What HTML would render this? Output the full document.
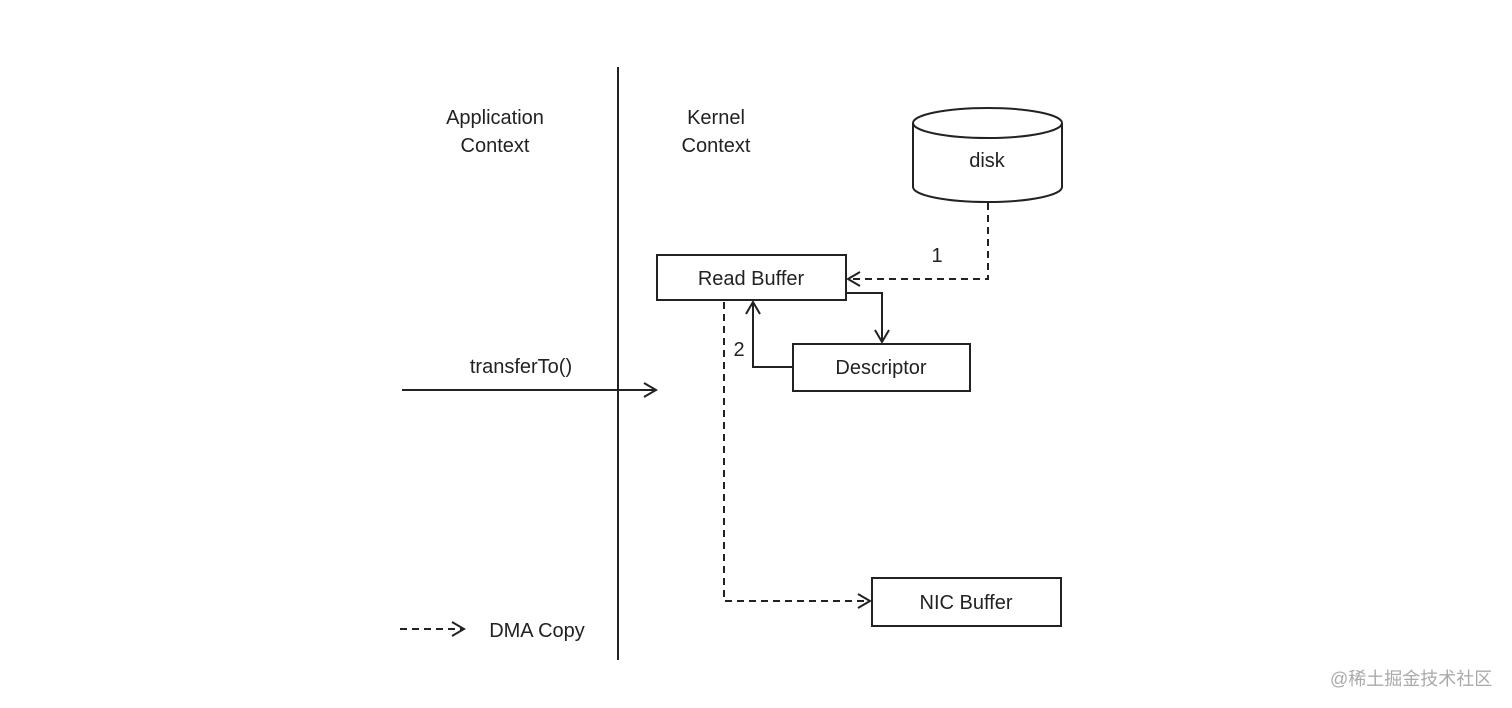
<!DOCTYPE html>
<html><head><meta charset="utf-8"><style>
html,body{margin:0;padding:0;background:#fff;}
svg{display:block;}
text{font-family:"Liberation Sans","Noto Sans CJK SC",sans-serif;fill:#222;}
</style></head><body>
<svg width="1512" height="708" viewBox="0 0 1512 708" xmlns="http://www.w3.org/2000/svg">
<g stroke="#222" stroke-width="2" fill="none">
<line x1="618" y1="67" x2="618" y2="660"/>
<rect x="657" y="255" width="189" height="45" fill="#fff"/>
<rect x="793" y="344" width="177" height="47" fill="#fff"/>
<rect x="872" y="578" width="189" height="48" fill="#fff"/>
<path d="M913,123 L913,187 A74.5,15 0 0 0 1062,187 L1062,123"/>
<ellipse cx="987.5" cy="123" rx="74.5" ry="15"/>
<path d="M988,203 L988,279 L850,279" stroke-dasharray="7,5"/>
<path d="M860,272 L848,279 L860,286"/>
<path d="M846,293 L882,293 L882,342"/>
<path d="M875,330 L882,342 L889,330"/>
<path d="M793,367 L753,367 L753,302"/>
<path d="M746,314 L753,302 L760,314"/>
<path d="M724,302 L724,601 L868,601" stroke-dasharray="7,5"/>
<path d="M858,594 L870,601 L858,608"/>
<line x1="402" y1="390" x2="656" y2="390"/>
<path d="M644,383 L656,390 L644,397"/>
<line x1="400" y1="629" x2="462" y2="629" stroke-dasharray="7,5"/>
<path d="M452,622 L464,629 L452,636"/>
</g>
<g font-size="20" text-anchor="middle">
<text x="495" y="124">Application</text>
<text x="495" y="152">Context</text>
<text x="716" y="124">Kernel</text>
<text x="716" y="152">Context</text>
<text x="987" y="167">disk</text>
<text x="751" y="285">Read Buffer</text>
<text x="881" y="374">Descriptor</text>
<text x="966" y="609">NIC Buffer</text>
<text x="937" y="262">1</text>
<text x="739" y="356">2</text>
<text x="521" y="373">transferTo()</text>
<text x="537" y="637">DMA Copy</text>
</g>
<text x="1330" y="685" font-size="18" style="fill:#aaa">@稀土掘金技术社区</text>
</svg>
</body></html>
